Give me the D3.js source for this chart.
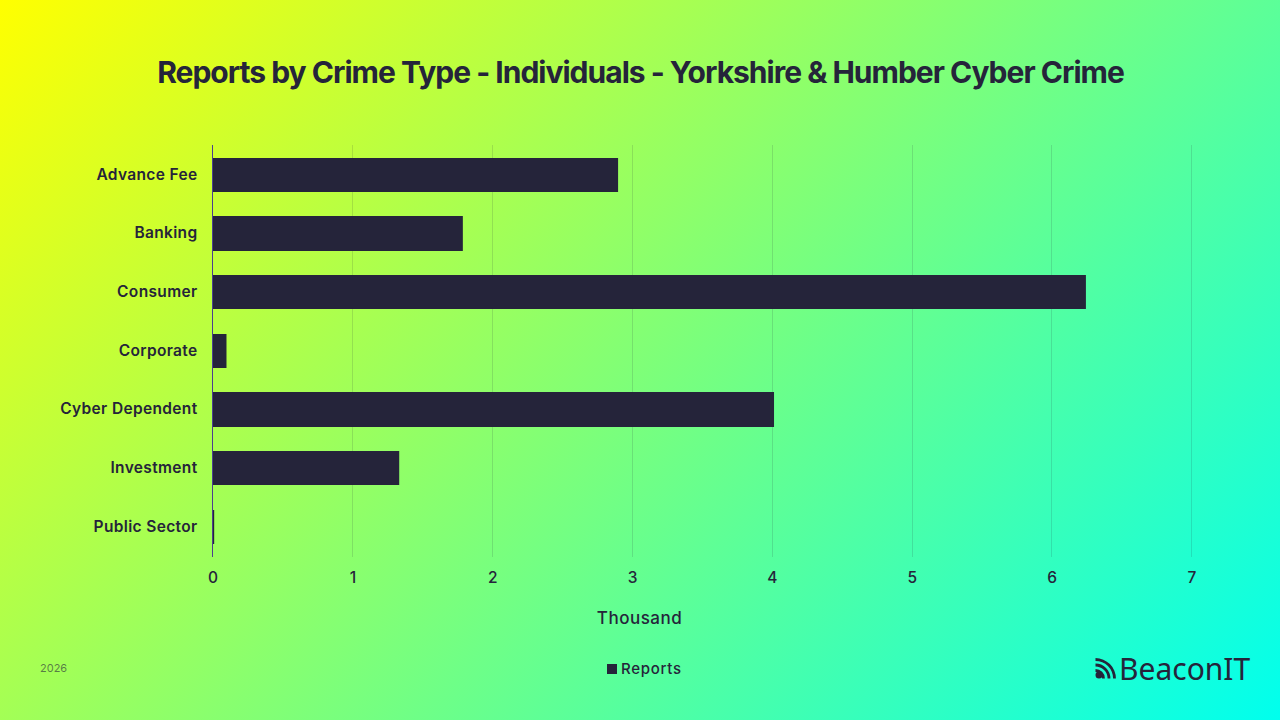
<!DOCTYPE html>
<html><head><meta charset="utf-8">
<script src="https://cdn.jsdelivr.net/npm/d3@7"></script>
<style>
html,body{margin:0;padding:0;width:1280px;height:720px;overflow:hidden}
text{font-family:Inter,"Noto Sans",sans-serif;fill:#25243a}
</style></head><body>
<svg id="c" width="1280" height="720"></svg>
<script>
const titleText = "Reports by Crime Type - Individuals - Yorkshire & Humber Cyber Crime";
const categories = ["Advance Fee","Banking","Consumer","Corporate","Cyber Dependent","Investment","Public Sector"];
const reports = [2.9,1.79,6.245,0.1,4.015,1.335,0.012];
const xTicks = [0,1,2,3,4,5,6,7];
const axisTitle = "Thousand";
const seriesName = "Reports";
const yearLabel = "2026";
const brand = "BeaconIT";
const ink = "#25243a";

const svg = d3.select("#c");
const defs = svg.append("defs");
const cx=640, cy=360, half=(1280+720)/2*Math.SQRT1_2, d=half*Math.SQRT1_2;
const g = defs.append("linearGradient").attr("id","bg").attr("gradientUnits","userSpaceOnUse")
  .attr("x1",cx-d).attr("y1",cy-d).attr("x2",cx+d).attr("y2",cy+d);
g.selectAll("stop").data([[0,"#ffff00"],[1,"#00ffee"]]).join("stop")
  .attr("offset",s=>s[0]).attr("stop-color",s=>s[1]);
svg.append("rect").attr("width",1280).attr("height",720).attr("fill","url(#bg)");

const x = d3.scaleLinear().domain([0,7]).range([212.5,1191.5]);
const y = d3.scaleBand().domain(categories).range([144.8,556.8]).paddingInner(0.415).paddingOuter(0.22);

// gridlines
const gridX = t => Math.round(x(t)-0.2)+0.5;
svg.append("g").selectAll("line").data(xTicks.slice(1)).join("line")
  .attr("x1",gridX).attr("x2",gridX).attr("y1",145).attr("y2",557)
  .attr("stroke","#25243a").attr("stroke-opacity",0.14).attr("stroke-width",1);

// bars
svg.append("g").selectAll("rect").data(categories).join("rect")
  .attr("x",x(0)).attr("y",c=>Math.round(y(c)))
  .attr("width",(c,i)=>Math.max(0,x(reports[i])-x(0)))
  .attr("height",c=>Math.round(y(c)+y.bandwidth())-Math.round(y(c))).attr("fill",ink);

// baseline
svg.append("line").attr("x1",x(0)).attr("x2",x(0)).attr("y1",145).attr("y2",557)
  .attr("stroke","#4b3f8f").attr("stroke-width",1);

// axes
const xAxis = svg.append("g").attr("transform","translate(0,557)")
  .call(d3.axisBottom(x).tickValues(xTicks).tickFormat(d3.format("d")).tickSize(0).tickPadding(15));
xAxis.select(".domain").remove();
xAxis.selectAll("text").attr("font-size",15.5).attr("font-weight",500).style("fill",ink);

const yAxis = svg.append("g").attr("transform","translate(212.5,0)")
  .call(d3.axisLeft(y).tickSize(0).tickPadding(15));
yAxis.select(".domain").remove();
yAxis.selectAll("text").attr("font-size",15.5).attr("font-weight",600).attr("letter-spacing",0.35).style("fill",ink);

svg.append("text").attr("x",640.5).attr("y",72).attr("dy","0.35em").attr("text-anchor","middle")
  .attr("font-size",30).attr("font-weight",700).attr("letter-spacing",-0.99).text(titleText);
svg.append("text").attr("x",639.5).attr("y",618).attr("dy","0.35em").attr("text-anchor","middle")
  .attr("font-size",17).attr("font-weight",500).attr("letter-spacing",0.5).text(axisTitle);
svg.append("text").attr("x",40).attr("y",668).attr("dy","0.35em")
  .attr("font-size",11).style("fill",ink).attr("fill-opacity",0.6).text(yearLabel);

// legend
svg.append("rect").attr("x",607).attr("y",664).attr("width",10).attr("height",10).attr("fill",ink);
svg.append("text").attr("x",621).attr("y",669).attr("dy","0.35em")
  .attr("font-size",15).attr("font-weight",500).attr("letter-spacing",0.7).text(seriesName);

// logo
const logo = svg.append("g").attr("transform","translate(1099,675)");
logo.append("circle").attr("cx",0).attr("cy",0).attr("r",3.5).attr("fill",ink);
[8,13.5,19].forEach(r=>{
  logo.append("path").attr("d",d3.arc()({innerRadius:r-1.4,outerRadius:r+1.4,startAngle:0,endAngle:Math.PI/2}))
    .attr("transform","translate(-3.5,3.5)").attr("fill",ink);
});
svg.append("text").attr("x",1119).attr("y",669).attr("dy","0.35em")
  .attr("font-size",30).attr("font-weight",400).style("font-family","Noto Sans").text(brand);
</script></body></html>
